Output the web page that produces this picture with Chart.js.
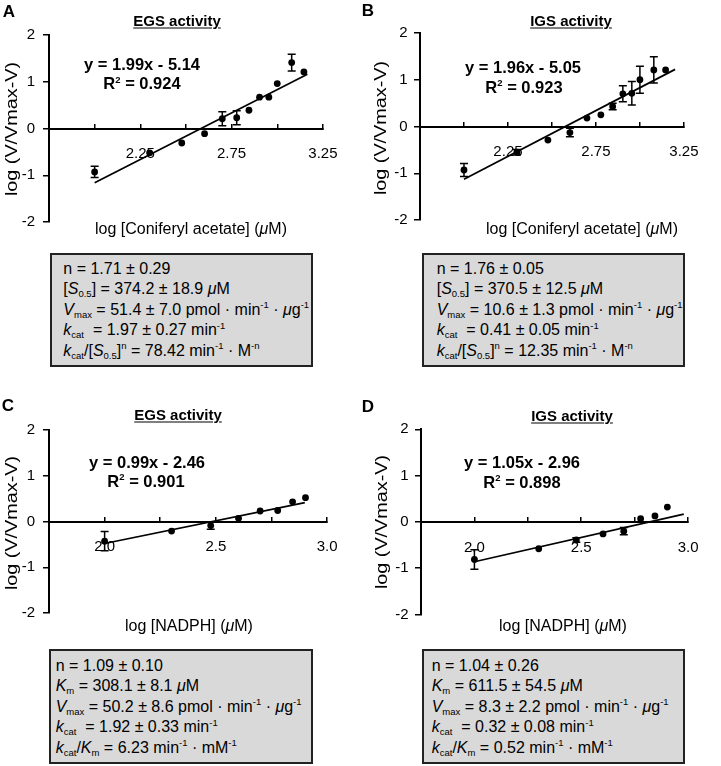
<!DOCTYPE html>
<html>
<head>
<meta charset="utf-8">
<script src="https://cdn.jsdelivr.net/npm/chart.js@4"></script>
<style>
  html, body { margin:0; padding:0; background:#fff; }
  #wrap { position:relative; width:721px; height:766px; overflow:hidden; background:#fff; }
  canvas { position:absolute; display:block; }
  .t { position:absolute; white-space:nowrap; font-family:'Liberation Sans', Arial, Helvetica, sans-serif; color:#000; line-height:1; transform:translate(-50%,-50%); }
  .letter { font-weight:bold; font-size:17px; }
  .ttl { font-weight:bold; font-size:15px; text-decoration:underline; text-underline-offset:2px; }
  .eq { font-weight:bold; font-size:16.5px; }
  .eq sup { font-size:9.5px; position:relative; top:-6.5px; vertical-align:baseline; line-height:0; }
  .xt { font-size:16px; }
  .yt { font-size:16.5px; transform:translate(-50%,-50%) rotate(-90deg) scaleX(1.2); }
  .box { position:absolute; box-sizing:border-box; border:2px solid #222; background:#d9d9d9; }
  .lines { position:absolute; font-family:'Liberation Sans', Arial, Helvetica, sans-serif; font-size:16px; line-height:20.4px; color:#000; white-space:nowrap; }
  .lines sub { font-size:9.5px; position:relative; top:3px; vertical-align:baseline; line-height:0; }
  .lines sup { font-size:9.5px; position:relative; top:-6.5px; vertical-align:baseline; line-height:0; }
</style>
</head>
<body>
<div id="wrap">
  <canvas id="cA" width="360" height="240" style="left:0;top:0;width:360px;height:240px"></canvas>
  <canvas id="cB" width="361" height="240" style="left:360px;top:0;width:361px;height:240px"></canvas>
  <canvas id="cC" width="360" height="240" style="left:0;top:390px;width:360px;height:240px"></canvas>
  <canvas id="cD" width="361" height="240" style="left:360px;top:390px;width:361px;height:240px"></canvas>

  <div class="t letter" style="left:9px;top:11px">A</div>
  <div class="t letter" style="left:368px;top:10px">B</div>
  <div class="t letter" style="left:8px;top:405px">C</div>
  <div class="t letter" style="left:368px;top:406px">D</div>

  <div class="t ttl" style="left:177px;top:20px">EGS activity</div>
  <div class="t ttl" style="left:571px;top:19.5px">IGS activity</div>
  <div class="t ttl" style="left:178px;top:414px">EGS activity</div>
  <div class="t ttl" style="left:572px;top:415px">IGS activity</div>

  <div class="t eq" style="left:142px;top:64px">y = 1.99x - 5.14</div>
  <div class="t eq" style="left:142px;top:83px">R<sup>2</sup> = 0.924</div>
  <div class="t eq" style="left:523px;top:67px">y = 1.96x - 5.05</div>
  <div class="t eq" style="left:524px;top:86.5px">R<sup>2</sup> = 0.923</div>
  <div class="t eq" style="left:147px;top:461.5px">y = 0.99x - 2.46</div>
  <div class="t eq" style="left:146px;top:480.5px">R<sup>2</sup> = 0.901</div>
  <div class="t eq" style="left:522px;top:462px">y = 1.05x - 2.96</div>
  <div class="t eq" style="left:522px;top:481.5px">R<sup>2</sup> = 0.898</div>

  <div class="t xt" style="left:191px;top:229px">log [Coniferyl acetate] (<i>μ</i>M)</div>
  <div class="t xt" style="left:582px;top:229px">log [Coniferyl acetate] (<i>μ</i>M)</div>
  <div class="t xt" style="left:189px;top:625.5px">log [NADPH] (<i>μ</i>M)</div>
  <div class="t xt" style="left:563px;top:625.5px">log [NADPH] (<i>μ</i>M)</div>

  <div class="t yt" style="left:11px;top:128.5px">log (V/Vmax-V)</div>
  <div class="t yt" style="left:380px;top:128px">log (V/Vmax-V)</div>
  <div class="t yt" style="left:11px;top:523px">log (V/Vmax-V)</div>
  <div class="t yt" style="left:381px;top:522px">log (V/Vmax-V)</div>

  <div class="box" style="left:50px;top:253px;width:263px;height:114px">
    <div class="lines" style="left:11.3px;top:4px">
      n = 1.71 ± 0.29<br>
      [<i>S</i><sub>0.5</sub>] = 374.2 ± 18.9 <i>μ</i>M<br>
      <i>V</i><sub>max</sub> = 51.4 ± 7.0 pmol · min<sup>-1</sup> · <i>μ</i>g<sup>-1</sup><br>
      <i>k</i><sub>cat</sub>&nbsp; = 1.97 ± 0.27 min<sup>-1</sup><br>
      <i>k</i><sub>cat</sub>/[<i>S</i><sub>0.5</sub>]<sup>n</sup> = 78.42 min<sup>-1</sup> · M<sup>-n</sup>
    </div>
  </div>
  <div class="box" style="left:422px;top:253px;width:263px;height:114px">
    <div class="lines" style="left:12.7px;top:4px">
      n = 1.76 ± 0.05<br>
      [<i>S</i><sub>0.5</sub>] = 370.5 ± 12.5 <i>μ</i>M<br>
      <i>V</i><sub>max</sub> = 10.6 ± 1.3 pmol · min<sup>-1</sup> · <i>μ</i>g<sup>-1</sup><br>
      <i>k</i><sub>cat</sub>&nbsp; = 0.41 ± 0.05 min<sup>-1</sup><br>
      <i>k</i><sub>cat</sub>/[<i>S</i><sub>0.5</sub>]<sup>n</sup> = 12.35 min<sup>-1</sup> · M<sup>-n</sup>
    </div>
  </div>
  <div class="box" style="left:49px;top:649px;width:264px;height:115px">
    <div class="lines" style="left:4.7px;top:5px">
      n = 1.09 ± 0.10<br>
      <i>K</i><sub>m</sub> = 308.1 ± 8.1 <i>μ</i>M<br>
      <i>V</i><sub>max</sub> = 50.2 ± 8.6 pmol · min<sup>-1</sup> · <i>μ</i>g<sup>-1</sup><br>
      <i>k</i><sub>cat</sub>&nbsp; = 1.92 ± 0.33 min<sup>-1</sup><br>
      <i>k</i><sub>cat</sub>/<i>K</i><sub>m</sub> = 6.23 min<sup>-1</sup> · mM<sup>-1</sup>
    </div>
  </div>
  <div class="box" style="left:422px;top:649px;width:263px;height:115px">
    <div class="lines" style="left:7.7px;top:5px">
      n = 1.04 ± 0.26<br>
      <i>K</i><sub>m</sub> = 611.5 ± 54.5 <i>μ</i>M<br>
      <i>V</i><sub>max</sub> = 8.3 ± 2.2 pmol · min<sup>-1</sup> · <i>μ</i>g<sup>-1</sup><br>
      <i>k</i><sub>cat</sub>&nbsp; = 0.32 ± 0.08 min<sup>-1</sup><br>
      <i>k</i><sub>cat</sub>/<i>K</i><sub>m</sub> = 0.52 min<sup>-1</sup> · mM<sup>-1</sup>
    </div>
  </div>
</div>

<script>
// ---------- data ----------
const xConiferyl = [2.0, 2.301, 2.477, 2.602, 2.699, 2.778, 2.845, 2.903, 2.954, 3.0, 3.079, 3.146];
const yEGS_A = [-0.93, -0.52, -0.31, -0.11, 0.21, 0.23, 0.39, 0.67, 0.67, 0.96, 1.41, 1.21];
const errEGS_A = [0.12, 0, 0, 0, 0.15, 0.15, 0, 0, 0, 0, 0.18, 0];
const yIGS_B = [-0.93, -0.55, -0.29, -0.13, 0.18, 0.25, 0.43, 0.70, 0.71, 1.0, 1.21, 1.21];
const errIGS_B = [0.14, 0.06, 0, 0.09, 0, 0, 0.07, 0.17, 0.25, 0.29, 0.28, 0];

const xNADPH = [2.0, 2.301, 2.477, 2.602, 2.699, 2.778, 2.845, 2.903];
const yEGS_C = [-0.43, -0.21, -0.09, 0.07, 0.23, 0.24, 0.43, 0.52];
const errEGS_C = [0.21, 0, 0.08, 0, 0, 0, 0, 0];
const yIGS_D = [-0.81, -0.58, -0.39, -0.26, -0.20, 0.07, 0.13, 0.32];
const errIGS_D = [0.21, 0, 0.05, 0, 0.08, 0, 0, 0];

// regression: [slope, intercept] and drawn x-range
const fitA = [1.99, -5.14], fitRangeA = [2.0, 3.165];
const fitB = [1.96, -5.05], fitRangeB = [2.0, 3.2];
const fitC = [0.99, -2.46], fitRangeC = [2.0, 2.9];
const fitD = [1.05, -2.96], fitRangeD = [2.0, 2.98];

// tick values and labels
const xTicksAB = [1.75, 2.0, 2.25, 2.5, 2.75, 3.0, 3.25];
const xTickLabelsAB = ['', '', '2.25', '', '2.75', '', '3.25'];
const xTicksCD = [1.75, 2.0, 2.25, 2.5, 2.75, 3.0];
const xTickLabelsCD = ['', '2.0', '', '2.5', '', '3.0'];
const yTicks = [-2, -1, 0, 1, 2];
const yTickLabels = ['-2', '-1', '0', '1', '2'];

// ---------- chart builder ----------
const FONT = "'Liberation Sans', Arial, Helvetica, sans-serif";

function errorBarPlugin(errs) {
  return {
    id: 'errorBars',
    afterDatasetsDraw(chart) {
      const ctx = chart.ctx, xs = chart.scales.x, ys = chart.scales.y;
      const pts = chart.data.datasets[0].data;
      ctx.save();
      ctx.strokeStyle = '#000';
      ctx.lineWidth = 1.5;
      pts.forEach((p, i) => {
        const e = errs[i];
        if (!e) return;
        const px = xs.getPixelForValue(p.x);
        const t = ys.getPixelForValue(p.y + e);
        const b = ys.getPixelForValue(p.y - e);
        ctx.beginPath();
        ctx.moveTo(px, t); ctx.lineTo(px, b);
        ctx.moveTo(px - 4, t); ctx.lineTo(px + 4, t);
        ctx.moveTo(px - 4, b); ctx.lineTo(px + 4, b);
        ctx.stroke();
      });
      ctx.restore();
    }
  };
}

function makeChart(id, c) {
  new Chart(document.getElementById(id), {
    type: 'scatter',
    data: {
      datasets: [
        {
          data: c.xs.map((x, i) => ({ x: x, y: c.ys[i] })),
          pointRadius: 3.4,
          pointBackgroundColor: '#000',
          pointBorderColor: '#000',
          pointBorderWidth: 0,
          showLine: false
        },
        {
          type: 'line',
          data: c.fitRange.map(x => ({ x: x, y: c.fit[0] * x + c.fit[1] })),
          borderColor: '#000',
          borderWidth: 1.7,
          pointRadius: 0,
          fill: false,
          tension: 0
        }
      ]
    },
    options: {
      responsive: false,
      animation: false,
      events: [],
      layout: { padding: c.pad },
      plugins: { legend: { display: false }, tooltip: { enabled: false }, title: { display: false } },
      scales: {
        x: {
          type: 'linear',
          position: { y: 0 },
          min: c.xTicks[0],
          max: c.xTicks[c.xTicks.length - 1],
          afterBuildTicks: s => { s.ticks = c.xTicks.map(v => ({ value: v })); },
          ticks: {
            autoSkip: false, maxRotation: 0, minRotation: 0,
            callback: (v, i) => c.xTickLabels[i],
            font: { family: FONT, size: 15 }, color: '#000', padding: 22.5
          },
          grid: { drawOnChartArea: false, drawTicks: true, tickLength: -6, color: '#000', lineWidth: 1.5 },
          border: { display: true, color: '#000', width: 2 }
        },
        y: {
          type: 'linear',
          position: 'left',
          min: -2, max: 2,
          afterBuildTicks: s => { s.ticks = yTicks.map(v => ({ value: v })); },
          ticks: {
            callback: (v, i) => yTickLabels[i],
            font: { family: FONT, size: 15 }, color: '#000', padding: c.ypad
          },
          grid: { drawOnChartArea: false, drawTicks: true, tickLength: 6, color: '#000', lineWidth: 1.5 },
          border: { display: true, color: '#000', width: 2 },
          afterFit: s => { s.width = c.yw; }
        }
      }
    },
    plugins: [errorBarPlugin(c.errs)]
  });
}

makeChart('cA', { xs: xConiferyl, ys: yEGS_A, errs: errEGS_A, fit: fitA, fitRange: fitRangeA,
  xTicks: xTicksAB, xTickLabels: xTickLabelsAB, yw: 49, ypad: 8, pad: { left: 0, top: 35, right: 30, bottom: 18 } });
makeChart('cB', { xs: xConiferyl, ys: yIGS_B, errs: errIGS_B, fit: fitB, fitRange: fitRangeB,
  xTicks: xTicksAB, xTickLabels: xTickLabelsAB, yw: 60, ypad: 6.5, pad: { left: 0, top: 33, right: 18, bottom: 20 } });
makeChart('cC', { xs: xNADPH, ys: yEGS_C, errs: errEGS_C, fit: fitC, fitRange: fitRangeC,
  xTicks: xTicksCD, xTickLabels: xTickLabelsCD, yw: 49, ypad: 8, pad: { left: 0, top: 40, right: 28.3, bottom: 13.3 } });
makeChart('cD', { xs: xNADPH, ys: yIGS_D, errs: errIGS_D, fit: fitD, fitRange: fitRangeD,
  xTicks: xTicksCD, xTickLabels: xTickLabelsCD, yw: 61, ypad: 6.5, pad: { left: 0, top: 39.3, right: 17.7, bottom: 14 } });
</script>
</body>
</html>
